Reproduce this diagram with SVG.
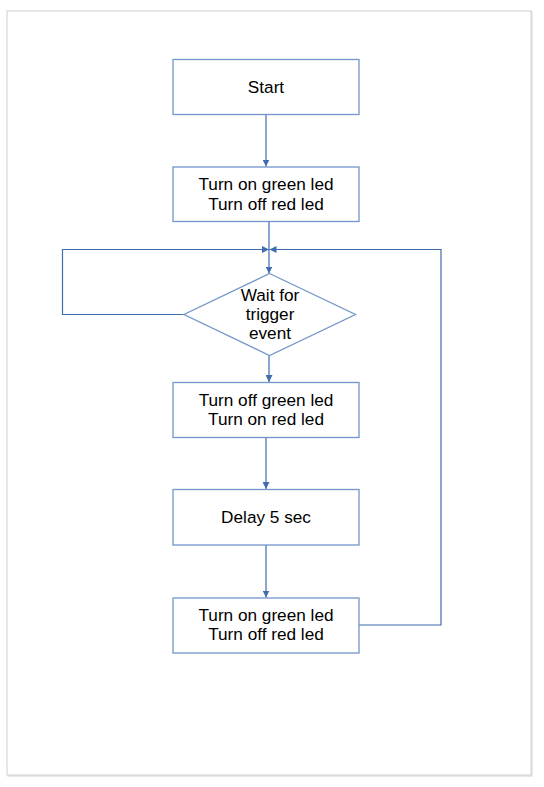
<svg xmlns="http://www.w3.org/2000/svg" width="544" height="787" viewBox="0 0 544 787">
  <style>
    .box { fill: #ffffff; stroke: #7296c9; stroke-width: 1.3; }
    .lbl { font-family: "Liberation Sans", Arial, sans-serif; font-size: 17.2px; fill: #000000; text-anchor: middle; }
    .wire { fill: none; stroke: #3e6cae; stroke-width: 1.2; }
  </style>
  <defs>
    <marker id="arrow" viewBox="0 0 10 10" refX="10" refY="5" markerWidth="7" markerHeight="7" markerUnits="userSpaceOnUse" orient="auto">
      <path d="M0,0 L10,5 L0,10 Z" fill="#3e6cae"/>
    </marker>
  </defs>

  <!-- page frame -->
  <rect x="8" y="12" width="524" height="764" fill="none" stroke="#e2e2e2" stroke-width="1.5"/>
  <rect x="7" y="11" width="524" height="764" fill="#ffffff" stroke="#cfcfcf" stroke-width="1"/>

  <g id="connectors">
    <path class="wire" d="M266,114 V166.5" marker-end="url(#arrow)"/>
    <path class="wire" d="M269,221.5 V273.5" marker-end="url(#arrow)"/>
    <path class="wire" d="M184,314.5 H62.5 V249.5 H269" marker-end="url(#arrow)"/>
    <path class="wire" d="M359,625 H441 V249.5 H269.5" marker-end="url(#arrow)"/>
    <path class="wire" d="M269,355.5 V382" marker-end="url(#arrow)"/>
    <path class="wire" d="M266,437.5 V489" marker-end="url(#arrow)"/>
    <path class="wire" d="M266,545 V597.5" marker-end="url(#arrow)"/>
  </g>

  <g id="start">
    <rect class="box" x="173" y="59.5" width="186" height="55"/>
    <text class="lbl" x="266" y="93">Start</text>
  </g>

  <g id="leds-init">
    <rect class="box" x="173" y="167" width="186" height="54.5"/>
    <text class="lbl" x="266" y="190">Turn on green led</text>
    <text class="lbl" x="266" y="209.5">Turn off red led</text>
  </g>

  <g id="wait-trigger">
    <polygon class="box" points="269.5,273.5 355.5,314.5 269.5,355.5 184,314.5"/>
    <text class="lbl" x="270" y="301">Wait for</text>
    <text class="lbl" x="270" y="320">trigger</text>
    <text class="lbl" x="270" y="339">event</text>
  </g>

  <g id="leds-alarm">
    <rect class="box" x="173" y="382.5" width="186" height="55"/>
    <text class="lbl" x="266" y="405.5">Turn off green led</text>
    <text class="lbl" x="266" y="425">Turn on red led</text>
  </g>

  <g id="delay">
    <rect class="box" x="173" y="489.5" width="186" height="55.5"/>
    <text class="lbl" x="266" y="523">Delay 5 sec</text>
  </g>

  <g id="leds-reset">
    <rect class="box" x="173" y="598" width="186" height="55"/>
    <text class="lbl" x="266" y="620.5">Turn on green led</text>
    <text class="lbl" x="266" y="640">Turn off red led</text>
  </g>
</svg>
